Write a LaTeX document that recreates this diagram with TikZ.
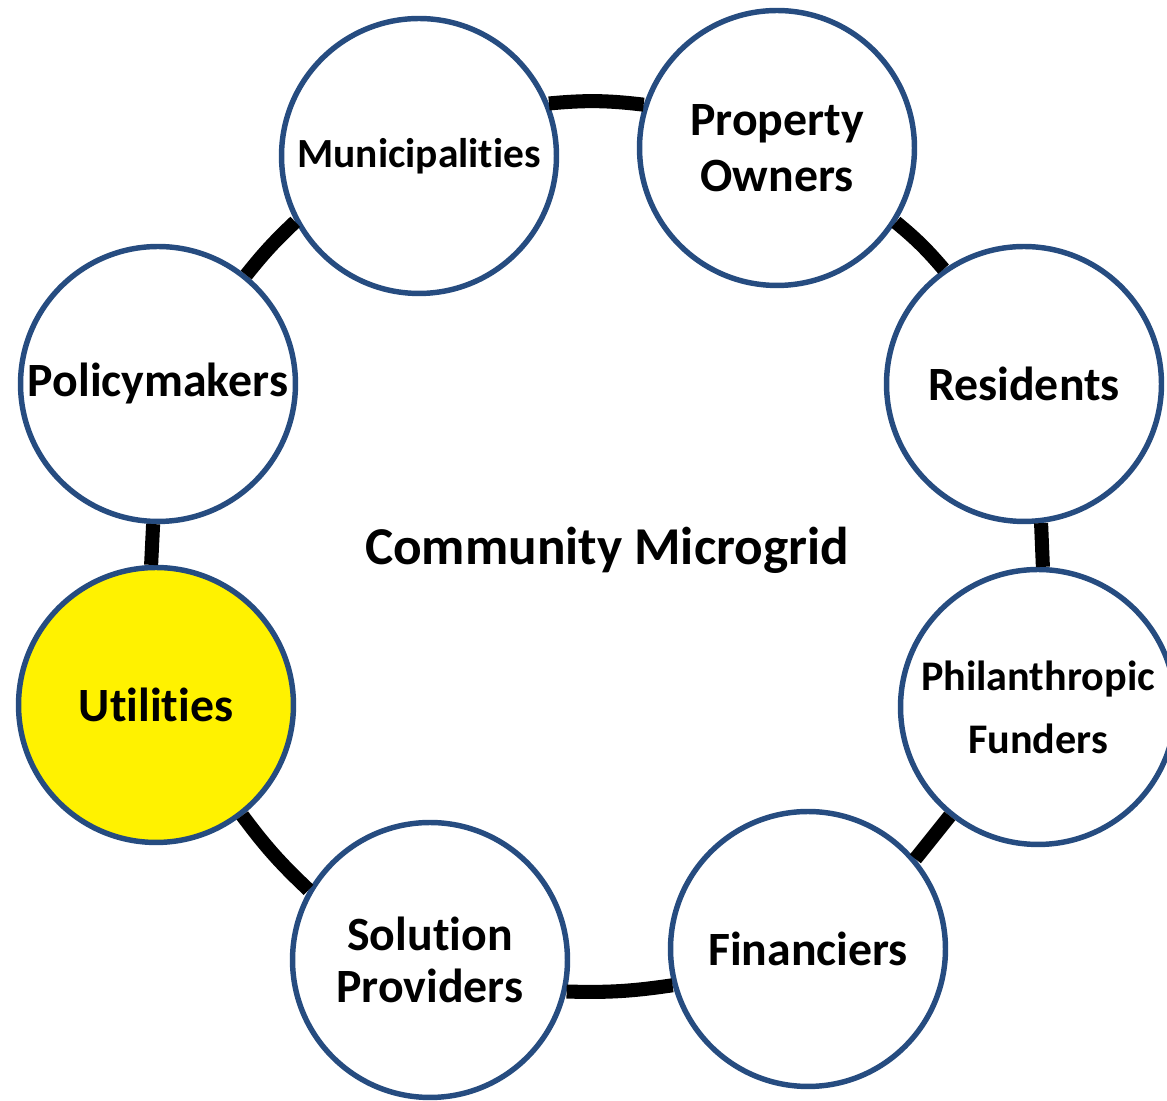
\documentclass[tikz,border=0pt]{standalone}
\usepackage{fontspec}
\setmainfont{Carlito}[Ligatures=NoCommon]
\definecolor{ringblue}{RGB}{38,76,128}
\tikzset{%
    party/.style={circle, draw=ringblue, line width=3.1pt, fill=white, minimum size=5.5cm,
                  inner sep=0pt, align=center, font=\bfseries\fontsize{27.2}{32}\selectfont},
    hub/.style={party, fill=yellow},
    link/.style={line width=8pt, black},
    title/.style={font=\bfseries\fontsize{30.3}{36}\selectfont}
}
\begin{document}
\begin{tikzpicture}[x=0.02cm, y=0.02cm]
    \useasboundingbox (0,0) rectangle (1167,1101);
    \node[title] (grid) at (607,551) {Community Microgrid};
    \node[party, font=\bfseries\fontsize{23.6}{28}\selectfont] (muni) at (419,945) {Municipalities};
    \node[party] (prop) at (777,953) {Property\\Owners};
    \node[party] (res) at (1024,717) {Residents};
    \node[party, font=\bfseries\fontsize{24}{36}\selectfont] (phil) at (1038,394) {Philanthropic\\Funders};
    \node[party] (fin) at (808,152) {Financiers};
    \node[party, font=\bfseries\fontsize{27.2}{30}\selectfont] (sol) at (430,141) {Solution\\Providers};
    \node[hub] (util) at (156,396) {Utilities};
    \node[party] (pol) at (158,717) {Policymakers};
    % ring between the circles
    \draw [link] (muni.22) to[bend left=6] (prop.162);
    \draw [link] (prop.-32) to[bend left=5] (res.125);
    \draw [link] (res.277) -- (phil.88);
    \draw [link] (phil.231) -- (fin.40);
    \draw [link] (fin.195) to[bend left=5] (sol.-13);
    \draw [link] (sol.150) to[bend left=5] (util.-52);
    \draw [link] (util.92) -- (pol.268);
    \draw [link] (pol.51) to[bend left=4] (muni.208);
\end{tikzpicture}
\end{document}
